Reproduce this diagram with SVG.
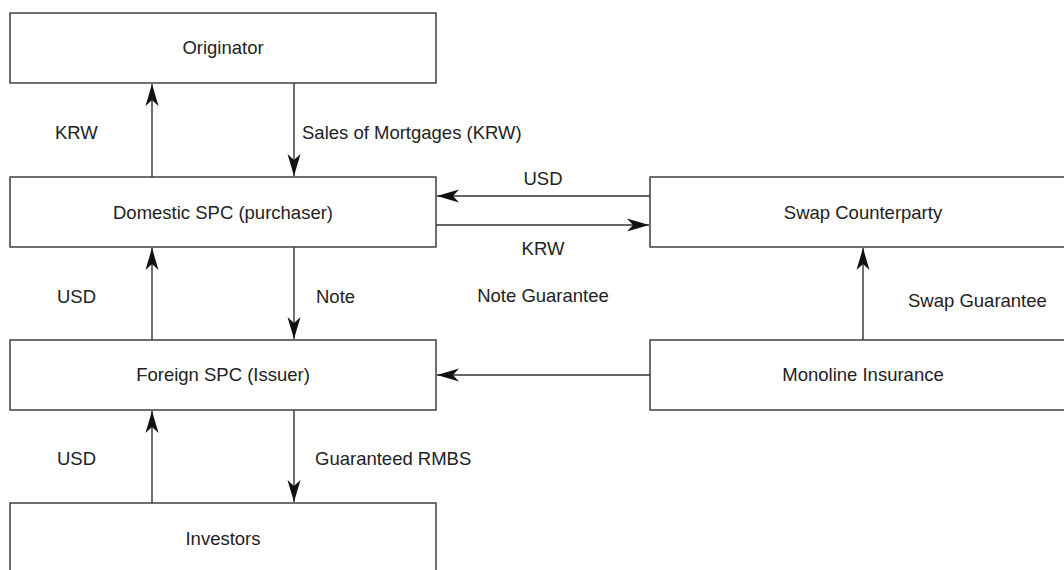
<svg xmlns="http://www.w3.org/2000/svg" width="1064" height="570" viewBox="0 0 1064 570">
<style>
.box{fill:#fff;stroke:#333;stroke-width:1.4}
.ln{fill:none;stroke:#333;stroke-width:1.4;marker-end:url(#ah)}
text{font-family:"Liberation Sans",Arial,sans-serif;font-size:18.5px;fill:#222}
.c{text-anchor:middle}
</style>
<defs>
<marker id="ah" markerUnits="userSpaceOnUse" markerWidth="24" markerHeight="16" viewBox="-22 -8 24 16" refX="0" refY="0" orient="auto">
<path d="M0,0 L-22,-6.5 L-16,0 L-22,6.5 Z" fill="#111"/>
</marker>
</defs>
<rect width="1064" height="570" fill="#fff"/>
<g id="connectors">
<line class="ln" x1="152" y1="177" x2="152" y2="84"/>
<line class="ln" x1="294" y1="83" x2="294" y2="176"/>
<line class="ln" x1="650" y1="196" x2="437" y2="196"/>
<line class="ln" x1="436" y1="225" x2="649" y2="225"/>
<line class="ln" x1="152" y1="340" x2="152" y2="248"/>
<line class="ln" x1="294" y1="247" x2="294" y2="339"/>
<line class="ln" x1="863" y1="340" x2="863" y2="248"/>
<line class="ln" x1="650" y1="375" x2="437" y2="375"/>
<line class="ln" x1="152" y1="503" x2="152" y2="411"/>
<line class="ln" x1="294" y1="410" x2="294" y2="502"/>
<text x="55" y="139">KRW</text>
<text x="302" y="139">Sales of Mortgages (KRW)</text>
<text class="c" x="543" y="185">USD</text>
<text class="c" x="543" y="255">KRW</text>
<text x="57" y="303">USD</text>
<text x="316" y="303">Note</text>
<text class="c" x="543" y="302">Note Guarantee</text>
<text x="908" y="307">Swap Guarantee</text>
<text x="57" y="465">USD</text>
<text x="315" y="465">Guaranteed RMBS</text>
</g>
<g id="originator">
<rect class="box" x="10" y="13" width="426" height="70"/>
<text class="c" x="223" y="54">Originator</text>
</g>
<g id="domestic-spc">
<rect class="box" x="10" y="177" width="426" height="70"/>
<text class="c" x="223" y="219">Domestic SPC (purchaser)</text>
</g>
<g id="swap-counterparty">
<rect class="box" x="650" y="177" width="430" height="70"/>
<text class="c" x="863" y="219">Swap Counterparty</text>
</g>
<g id="foreign-spc">
<rect class="box" x="10" y="340" width="426" height="70"/>
<text class="c" x="223" y="381">Foreign SPC (Issuer)</text>
</g>
<g id="monoline-insurance">
<rect class="box" x="650" y="340" width="430" height="70"/>
<text class="c" x="863" y="381">Monoline Insurance</text>
</g>
<g id="investors">
<rect class="box" x="10" y="503" width="426" height="90"/>
<text class="c" x="223" y="545">Investors</text>
</g>
</svg>
